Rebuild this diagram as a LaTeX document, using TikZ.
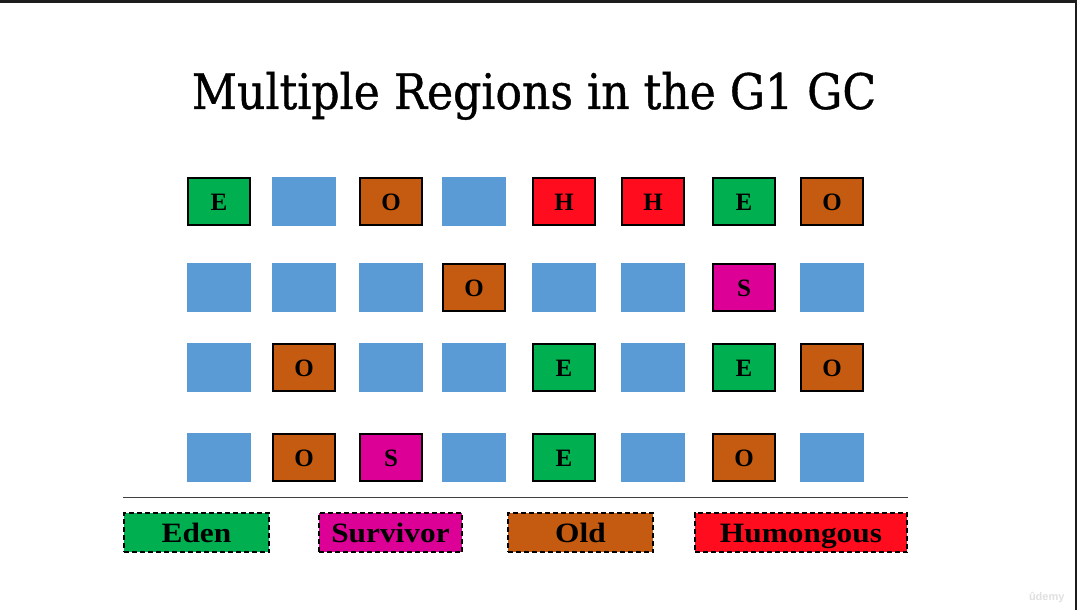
\documentclass[tikz,border=0pt]{standalone}
\usepackage{fontspec}
\setmainfont{Liberation Serif}
\newfontfamily\titlefont[FakeBold=0.8]{DejaVu Serif}
\newfontfamily\wmfont{Liberation Sans}
\definecolor{edenc}{HTML}{00B050}
\definecolor{freec}{HTML}{5B9BD5}
\definecolor{oldc}{HTML}{C55A11}
\definecolor{humc}{HTML}{FF0D1E}
\definecolor{survc}{HTML}{DC0096}
\definecolor{framec}{HTML}{1C1C1C}
\newcommand{\lgd}[1]{\scalebox{1.12}[1]{#1}}
\tikzset{
  region/.style={minimum width=64pt,minimum height=49pt,inner sep=0pt,anchor=north west,
    text height=17pt,text depth=0pt,
    font=\fontsize{25}{25}\selectfont\bfseries},
  freebox/.style={region,fill=freec},
  bordered/.style={region,draw=black,line width=1.9pt,minimum width=62.1pt,minimum height=47.1pt},
  ebox/.style={bordered,fill=edenc},
  obox/.style={bordered,fill=oldc},
  hbox/.style={bordered,fill=humc},
  sbox/.style={bordered,fill=survc},
  legend/.style={minimum height=39.4pt,inner sep=0pt,anchor=north west,draw=black,
    line width=1.6pt,dash pattern=on 5pt off 3pt,text height=19pt,text depth=0pt,
    font=\fontsize{28}{28}\selectfont\bfseries}
}
\begin{document}
\begin{tikzpicture}[x=1pt,y=-1pt]
\useasboundingbox (0,0) rectangle (1077,610);
\fill[white] (0,0) rectangle (1077,610);
\fill[framec] (0,0) rectangle (1077,3);
\fill[framec] (1075,0) rectangle (1077,610);
\node[font=\titlefont\fontsize{49}{49}\selectfont,anchor=base,inner sep=0pt] (title) at (534,109) {\scalebox{0.9}[1]{Multiple Regions in the G1 GC}};
% row 1
\node[ebox] (r1c1) at (187,177) {E};
\node[freebox] (r1c2) at (272,177) {};
\node[obox] (r1c3) at (359,177) {O};
\node[freebox] (r1c4) at (442,177) {};
\node[hbox] (r1c5) at (532,177) {H};
\node[hbox] (r1c6) at (621,177) {H};
\node[ebox] (r1c7) at (712,177) {E};
\node[obox] (r1c8) at (800,177) {O};
% row 2
\node[freebox] (r2c1) at (187,263) {};
\node[freebox] (r2c2) at (272,263) {};
\node[freebox] (r2c3) at (359,263) {};
\node[obox] (r2c4) at (442,263) {O};
\node[freebox] (r2c5) at (532,263) {};
\node[freebox] (r2c6) at (621,263) {};
\node[sbox] (r2c7) at (712,263) {S};
\node[freebox] (r2c8) at (800,263) {};
% row 3
\node[freebox] (r3c1) at (187,343) {};
\node[obox] (r3c2) at (272,343) {O};
\node[freebox] (r3c3) at (359,343) {};
\node[freebox] (r3c4) at (442,343) {};
\node[ebox] (r3c5) at (532,343) {E};
\node[freebox] (r3c6) at (621,343) {};
\node[ebox] (r3c7) at (712,343) {E};
\node[obox] (r3c8) at (800,343) {O};
% row 4
\node[freebox] (r4c1) at (187,433) {};
\node[obox] (r4c2) at (272,433) {O};
\node[sbox] (r4c3) at (359,433) {S};
\node[freebox] (r4c4) at (442,433) {};
\node[ebox] (r4c5) at (532,433) {E};
\node[freebox] (r4c6) at (621,433) {};
\node[obox] (r4c7) at (712,433) {O};
\node[freebox] (r4c8) at (800,433) {};
% separator
\coordinate (sepL) at (123,497);
\coordinate (sepR) at (908,497);
\draw[line width=0.8pt,black!75] (sepL) -- (sepR);
% legend
\node[legend,fill=edenc,minimum width=145.4pt] (leden) at (123,512) {\lgd{Eden}};
\node[legend,fill=survc,minimum width=143.4pt] (lsurv) at (318,512) {\lgd{Survivor}};
\node[legend,fill=oldc,minimum width=145.4pt] (lold) at (507,512) {\lgd{Old}};
\node[legend,fill=humc,minimum width=212.4pt] (lhum) at (694,512) {\lgd{Humongous}};
\node[font=\wmfont\bfseries\fontsize{11}{11}\selectfont,text=black!12,anchor=east] (wm) at (1068,598) {ûdemy};
\end{tikzpicture}
\end{document}
